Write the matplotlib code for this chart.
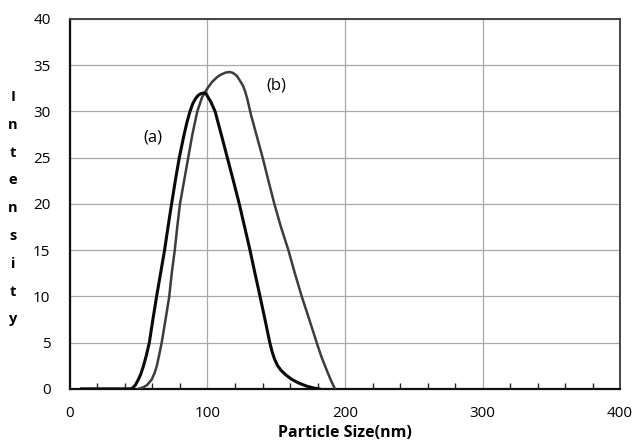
import matplotlib
matplotlib.use("Agg")
import matplotlib.pyplot as plt
from matplotlib.ticker import MultipleLocator

plt.rcParams['font.family'] = ['Open Sans', 'DejaVu Sans']

# curve (a) - black
size_a = [8.5, 44.8, 47.5, 49.7, 51.5, 53.3, 55.5, 57.7, 60.3, 63.0, 65.9, 68.8,
          71.3, 73.9, 76.6, 79.5, 83.0, 85.2, 87.3, 89.2, 91.0, 93.0, 95.0,
          97.8, 99.2, 100.5, 102.5, 104.0, 105.5, 110.0, 114.4, 118.8, 123.1,
          127.0, 130.9, 134.5, 138.2, 141.8, 145.3, 147.0, 148.8, 151.0, 153.5,
          157.0, 161.0, 166.0, 172.0, 177.0, 181.0]
int_a = [0, 0, 0.4, 1.0, 1.6, 2.4, 3.6, 5.0, 7.5, 10.0, 12.5, 15.0,
         17.5, 20.0, 22.5, 25.0, 27.5, 28.9, 30.0, 30.8, 31.3, 31.7, 31.9,
         32.0, 31.85, 31.5, 31.0, 30.5, 30.0, 27.5, 25.0, 22.5, 20.0,
         17.5, 15.0, 12.5, 10.0, 7.5, 5.0, 4.0, 3.2, 2.5, 2.0,
         1.5, 1.05, 0.65, 0.3, 0.1, 0]

# curve (b) - dark grey
size_b = [49.7, 53.0, 56.0, 59.4, 61.5, 63.0, 64.8, 66.7, 69.5, 72.2, 74.0, 76.2,
          78.0, 80.0, 83.0, 86.0, 89.0, 92.6, 96.0, 100.0, 103.5, 107.0, 109.0,
          111.0, 113.5, 116.4, 118.5, 120.0, 121.5, 123.0, 124.5, 126.0, 127.5,
          129.0, 131.5, 135.5, 140.1, 144.3, 148.6, 153.4, 158.8, 163.5, 168.5,
          174.0, 179.4, 183.0, 186.2, 189.5, 192.7]
int_b = [0, 0.15, 0.4, 1.0, 1.7, 2.4, 3.6, 5.0, 7.5, 10.0, 12.5, 15.0,
         17.5, 20.0, 22.5, 25.0, 27.5, 30.0, 31.5, 32.5, 33.2, 33.7, 33.9,
         34.05, 34.2, 34.25, 34.15, 34.0, 33.8, 33.45, 33.1, 32.7, 32.1,
         31.3, 29.7, 27.5, 25.0, 22.5, 20.0, 17.5, 15.0, 12.5, 10.0,
         7.5, 5.0, 3.4, 2.2, 1.0, 0]

fig = plt.figure(figsize=(6.36, 4.48), dpi=100)
ax = fig.add_axes([0.110, 0.132, 0.865, 0.826])

ax.plot(size_b, int_b, color='#3c3c3c', lw=1.8, zorder=3, solid_joinstyle='round')
ax.plot(size_a, int_a, color='#0a0a0a', lw=2.2, zorder=4, solid_joinstyle='round')

ax.set_xlim(0, 400)
ax.set_ylim(0, 40)
ax.xaxis.set_major_locator(MultipleLocator(100))
ax.xaxis.set_minor_locator(MultipleLocator(20))
ax.yaxis.set_major_locator(MultipleLocator(5))
ax.grid(True, which='major', color='#a8a8a8', lw=0.9)
ax.set_axisbelow(True)

ax.tick_params(axis='x', which='major', length=0, labelsize=11, pad=12)
ax.tick_params(axis='x', which='minor', direction='in', length=4, width=1, color='#222222')
ax.tick_params(axis='y', which='major', length=0, labelsize=11, pad=14)

for side in ['left', 'bottom']:
    ax.spines[side].set_color('#111111')
    ax.spines[side].set_linewidth(1.6)
for side in ['top', 'right']:
    ax.spines[side].set_color('#444444')
    ax.spines[side].set_linewidth(1.4)

fig.text(153 / 636, 1 - 138 / 448, '(a)', fontsize=12, ha='center', va='center')
fig.text(276 / 636, 1 - 86 / 448, '(b)', fontsize=12, ha='center', va='center')

ax.set_xlabel('Particle Size(nm)', fontsize=11.5, fontweight='bold', labelpad=3)

# vertical y label, one letter per line
letters = 'Intensity'
for i, ch in enumerate(letters):
    fig.text(13 / 636, 1 - (97 + i * 27.8) / 448, ch, fontsize=10.5,
             fontweight='bold', ha='center', va='center')

fig.savefig('out.png', dpi=100)
